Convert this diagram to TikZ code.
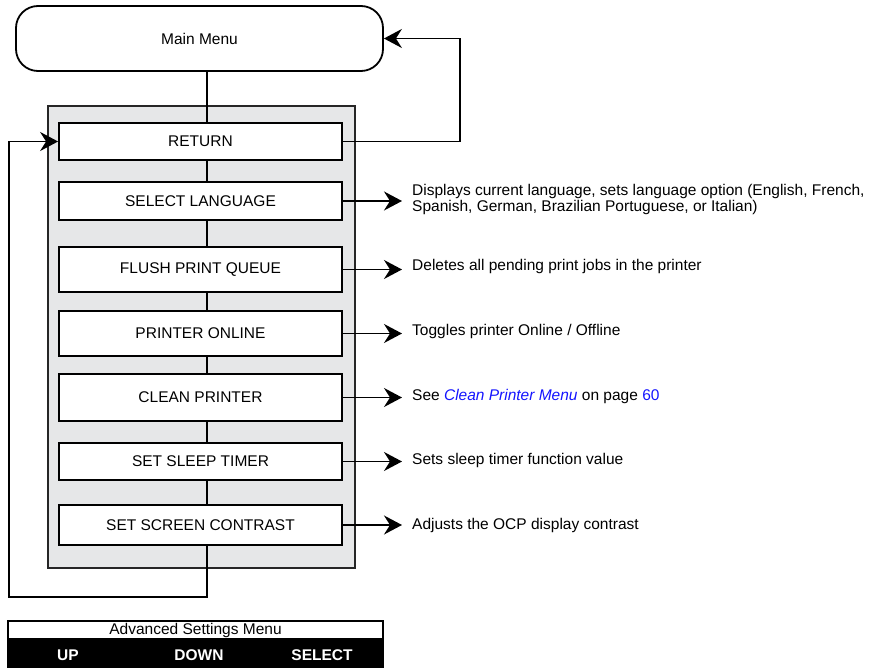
\documentclass[tikz,border=0pt]{standalone}
\usepackage{fontspec}
\setmainfont{Liberation Sans}
\usepackage{xcolor}
\usetikzlibrary{arrows.meta,positioning,backgrounds}
\definecolor{panelgray}{RGB}{230,231,232}
\definecolor{linkblue}{RGB}{20,20,255}

\begin{document}
\begin{tikzpicture}[
    x=1pt, y=-1pt,
    font=\fontsize{15.5}{16}\selectfont,
    menubox/.style={draw, line width=1.8pt, fill=white, minimum width=283pt, inner sep=0pt},
    desc/.style={anchor=west, inner xsep=10pt, inner ysep=0pt, align=left},
    conn/.style={line width=1.8pt},
    arr/.style={conn, -{Stealth[length=18pt, width=19pt, inset=6pt]}},
    keylabel/.style={text=white, font=\fontsize{15.5}{16}\selectfont\bfseries},
]
    \useasboundingbox (0,0) rectangle (881,668);

    % Main menu on top
    \node[draw, line width=1.8pt, rounded corners=22pt, minimum width=367pt, minimum height=65pt]
        (main) at (199.5,38.5) {Main Menu};

    % Menu entries
    \node[menubox, minimum height=37pt] (ret) at (200.5,141.5) {RETURN};
    \node[menubox, minimum height=38pt] (lang) at (200.5,201) {SELECT LANGUAGE};
    \node[menubox, minimum height=45pt] (flush) at (200.5,269.5) {FLUSH PRINT QUEUE};
    \node[menubox, minimum height=45pt] (online) at (200.5,333.5) {PRINTER ONLINE};
    \node[menubox, minimum height=47pt] (clean) at (200.5,397.5) {CLEAN PRINTER};
    \node[menubox, minimum height=37pt] (sleep) at (200.5,461.5) {SET SLEEP TIMER};
    \node[menubox, minimum height=40pt] (contrast) at (200.5,525) {SET SCREEN CONTRAST};

    % Descriptions on the right
    \node[desc] (langtxt) at (402,199) {Displays current language, sets language option (English, French,\\
        Spanish, German, Brazilian Portuguese, or Italian)};
    \node[desc] (flushtxt) at (402,266) {Deletes all pending print jobs in the printer};
    \node[desc] (onlinetxt) at (402,331) {Toggles printer Online / Offline};
    \node[desc] (cleantxt) at (402,396) {See \textcolor{linkblue}{\textit{Clean Printer Menu}} on page \textcolor{linkblue}{60}};
    \node[desc] (sleeptxt) at (402,460) {Sets sleep timer function value};
    \node[desc] (contrasttxt) at (402,525) {Adjusts the OCP display contrast};

    \foreach \entry in {lang,flush,online,clean,sleep,contrast}
        \draw[arr] (\entry.east) -- (\entry.east -| \entry txt.west);

    % Back to main menu
    \coordinate (backx) at (460,0);
    \draw[arr] (ret.east) -| (backx |- main.east) -- (main.east);

    % Panel and spine behind the entries
    \coordinate (spinebot) at (207,597);
    \coordinate (loopcorner) at (9,597);
    \begin{scope}[on background layer]
        \node[draw=black!85, line width=1.8pt, fill=panelgray, minimum width=307pt, minimum height=462pt]
            (panel) at (201.5,337) {};
        \draw[arr] (main.south -| spinebot) -- (spinebot) -- (loopcorner) |- (ret.west);
    \end{scope}

    % Key legend at the bottom
    \node[draw, line width=1.4pt, fill=white, minimum width=375pt, minimum height=18pt, inner sep=0pt]
        (advtitle) at (195.5,630) {Advanced Settings Menu};
    \node[fill=black, minimum width=376.4pt, minimum height=29pt, inner sep=0pt, anchor=north]
        (keybar) at (advtitle.south) {};
    \node[keylabel] (keyup) at (68,655) {UP};
    \node[keylabel] (keydown) at (199,655) {DOWN};
    \node[keylabel] (keyselect) at (322,655) {SELECT};
\end{tikzpicture}
\end{document}
